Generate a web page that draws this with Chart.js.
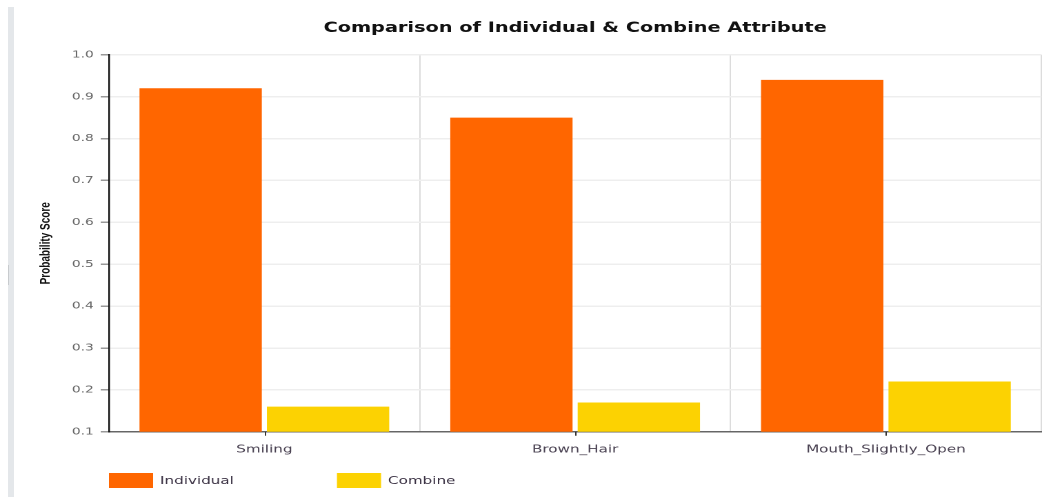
<!DOCTYPE html>
<html>
<head>
<meta charset="utf-8">
<script src="https://cdn.jsdelivr.net/npm/chart.js@4/dist/chart.umd.min.js"></script>
<style>
  html, body { margin: 0; padding: 0; background: #fff; }
  body { width: 1062px; height: 497px; position: relative; overflow: hidden; }
  #strip { position: absolute; left: 8px; top: 7px; width: 6px; height: 490px; background: #e4e7ea; z-index: 2; }
  #mark { position: absolute; left: 8px; top: 265px; width: 1px; height: 20px; background: #c8cbce; z-index: 3; }
  #wrap { position: absolute; left: 0; top: 0; width: 770px; height: 497px;
          transform: scaleX(1.3792); transform-origin: 0 0; }
</style>
</head>
<body>
<div id="strip"></div><div id="mark"></div>
<div id="wrap"><canvas id="c" width="770" height="497" style="width:770px;height:497px"></canvas></div>
<script>
const categories = ['Smiling', 'Brown_Hair', 'Mouth_Slightly_Open'];
const individualValues = [0.92, 0.85, 0.94];
const combineValues = [0.16, 0.17, 0.22];
const yTicks = [0.1, 0.2, 0.3, 0.4, 0.5, 0.6, 0.7, 0.8, 0.9, 1.0];
const seriesNames = ['Individual', 'Combine'];
const seriesColors = ['#FF6600', '#FCD202'];
const chartTitle = 'Comparison of Individual & Combine Attribute';
const yTitle = 'Probability Score';

const centerTicks = {
  id: 'centerTicks',
  afterDraw(chart) {
    const ctx = chart.ctx, xs = chart.scales.x, a = chart.chartArea;
    ctx.save();
    ctx.strokeStyle = '#333';
    ctx.lineWidth = 1;
    categories.forEach((c, i) => {
      const px = Math.round(xs.getPixelForValue(i)) + 0.5;
      ctx.beginPath(); ctx.moveTo(px, a.bottom); ctx.lineTo(px, a.bottom + 4); ctx.stroke();
    });
    ctx.restore();
  }
};

const customLegend = {
  id: 'customLegend',
  afterDraw(chart) {
    const ctx = chart.ctx, a = chart.chartArea;
    ctx.save();
    ctx.font = '11px "DejaVu Sans"';
    ctx.textBaseline = 'middle';
    ctx.textAlign = 'left';
    chart.data.datasets.forEach((ds, i) => {
      const x = a.left + i * 165.3;
      ctx.fillStyle = ds.backgroundColor;
      ctx.fillRect(x, 473, 32, 15);
      ctx.fillStyle = '#3b3244';
      ctx.fillText(ds.label, x + 37, 481);
    });
    ctx.restore();
  }
};

new Chart(document.getElementById('c'), {
  type: 'bar',
  data: {
    labels: categories,
    datasets: [
      { label: seriesNames[0], data: individualValues, backgroundColor: seriesColors[0], categoryPercentage: 0.82, barPercentage: 0.96 },
      { label: seriesNames[1], data: combineValues, backgroundColor: seriesColors[1], categoryPercentage: 0.82, barPercentage: 0.96 }
    ]
  },
  options: {
    responsive: false,
    animation: false,
    devicePixelRatio: 2,
    layout: { padding: { left: 0, right: 15, top: 0, bottom: 30 } },
    plugins: {
      legend: { display: false },
      tooltip: { enabled: false },
      title: {
        display: true, text: chartTitle, color: '#111', fullSize: false,
        font: { family: 'DejaVu Sans', size: 14, weight: 'bold' },
        padding: { top: 20, bottom: 18 }
      }
    },
    scales: {
      x: {
        grid: { offset: true, color: '#dcdcdc', lineWidth: 1, tickLength: 0, drawTicks: false },
        border: { color: '#666', width: 1.5 },
        ticks: { color: '#4a4252', padding: 11, font: { family: 'DejaVu Sans', size: 11 }, maxRotation: 0 }
      },
      y: {
        min: 0.1, max: 1.0,
        afterBuildTicks: (s) => { s.ticks = yTicks.map(v => ({ value: v })); },
        afterFit: (s) => { s.width = 79; },
        grid: { color: '#eeeeee', lineWidth: 1.5, tickLength: 6, tickColor: '#999' },
        border: { color: '#111', width: 1.2 },
        ticks: { color: '#666', padding: 5, font: { family: 'DejaVu Sans', size: 10 },
                 callback: (v) => Number(v).toFixed(1) },
        title: { display: true, text: yTitle, color: '#111',
                 font: { family: 'Liberation Sans', size: 10, weight: 'bold' },
                 padding: { top: 27, bottom: 0 } }
      }
    }
  },
  plugins: [centerTicks, customLegend]
});
</script>
</body>
</html>
